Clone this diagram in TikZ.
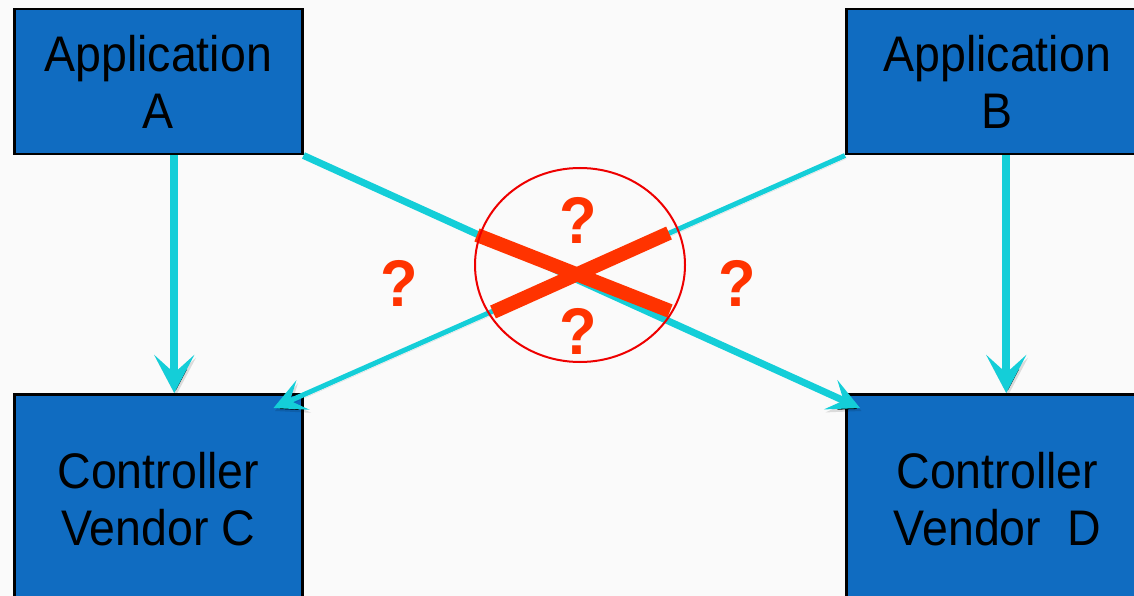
\documentclass[tikz,border=0pt]{standalone}
\usepackage{fontspec}
\setmainfont{Liberation Sans}[FakeStretch=0.93]
\usetikzlibrary{positioning, arrows.meta, shapes.geometric}
\definecolor{boxblue}{RGB}{16,108,193}
\definecolor{linkcyan}{RGB}{20,206,216}
\definecolor{crossred}{RGB}{255,51,0}
\definecolor{ringred}{RGB}{238,0,0}
\definecolor{paper}{RGB}{250,250,250}
\tikzset{
    x=1pt, y=-1pt,
    appbox/.style={
        draw=black,
        line width=2.5pt,
        fill=boxblue,
        align=center,
        inner sep=0pt,
        minimum width=288pt,
        minimum height=145pt,
        font=\fontsize{50}{57}\selectfont
    },
    shadowed/.style={preaction={draw=black, draw opacity=0.12,
        transform canvas={shift={(1.5pt,-3pt)}}}},
    link/.style={draw=linkcyan, shadowed},
    biglink/.style={link, line width=8pt,
        -{Stealth[length=38pt, width=40pt, inset=18pt]}},
    slantlink/.style={link,
        -{Stealth[length=32pt, width=32pt, inset=14pt]}},
    cross/.style={draw=crossred, line width=14pt},
    qmark/.style={text=crossred, inner sep=0pt,
        font=\fontsize{66}{66}\bfseries\selectfont},
}

\begin{document}
\begin{tikzpicture}
    \fill[paper] (0,0) rectangle (1134,596);
    \useasboundingbox (0,0) rectangle (1134,596);

    \node[appbox, anchor=north west] (appA) at (13,8) {Application\\A};
    \node[appbox, minimum width=302pt] (appB) [right=541.5pt of appA] {Application\\B};
    \node[appbox, minimum height=210pt] (ctlC) [below=237.5pt of appA] {Controller\\Vendor C};
    \node[appbox, minimum width=302pt, minimum height=210pt] (ctlD) [below=237.5pt of appB] {Controller\\Vendor\ \ D};

    % links that should exist
    \draw[biglink] ([xshift=16pt]appA.south) -- ([xshift=16pt]ctlC.north);
    \draw[biglink] ([xshift=9pt]appB.south) -- ([xshift=9pt]ctlD.north);

    % links across vendors
    \draw[slantlink, line width=7pt] (appA.south east) -- ([shift={(15,15)}]ctlD.north west);
    \draw[slantlink, line width=5pt] (appB.south west) -- ([shift={(-30,15)}]ctlC.north east);

    % crossed out
    \draw[cross] (477,235) -- (670,311);
    \draw[cross] (493,312) -- (669,233);
    \node[ellipse, draw=ringred, line width=2pt, inner sep=0pt,
          minimum width=210pt, minimum height=194pt] (ring) at (580,265) {};

    \node[qmark] (qTop)    at (578,220) {?};
    \node[qmark] (qBottom) at (578,331) {?};
    \node[qmark] (qLeft)   at (399,283) {?};
    \node[qmark] (qRight)  at (737,283) {?};
\end{tikzpicture}
\end{document}
